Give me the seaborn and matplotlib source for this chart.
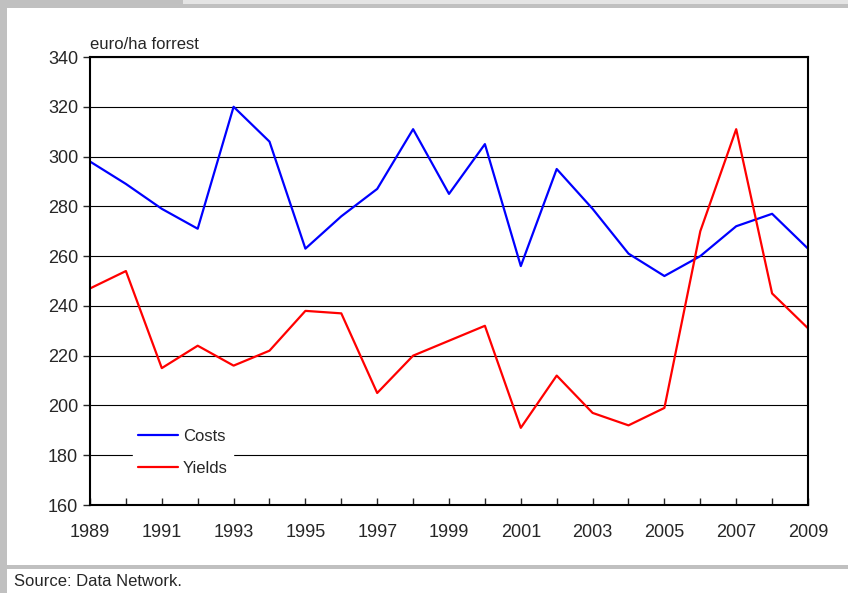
import numpy as np
import pandas as pd
import matplotlib.pyplot as plt
import seaborn as sns
from matplotlib.patches import Rectangle
from matplotlib.ticker import MultipleLocator


anni = list(range(1989, 2010))

costi = [298, 289, 279, 271, 320, 306, 263, 276, 287, 311, 285,
         305, 256, 295, 279, 261, 252, 260, 272, 277, 263]

rese = [247, 254, 215, 224, 216, 222, 238, 237, 205, 220, 226,
        232, 191, 212, 197, 192, 199, 270, 311, 245, 231]

etichetta_y = "euro/ha forrest"
fonte = "Source: Data Network."


def crea_dataframe():
    df = pd.DataFrame({
        "anno": anni * 2,
        "valore": costi + rese,
        "serie": ["Costs"] * len(anni) + ["Yields"] * len(anni)
    })
    return df


def disegna(df):
    sns.set_style("white")
    plt.rcParams["font.family"] = ["Liberation Sans Narrow", "Liberation Sans", "DejaVu Sans"]

    fig = plt.figure(figsize=(8.48, 5.93), dpi=100)

    # cornice grigia tipo report
    fig.patches.append(Rectangle((0, 1 - 8 / 593), 1, 8 / 593, transform=fig.transFigure,
                                 facecolor="#c0c0c0", edgecolor="none", zorder=0))
    fig.patches.append(Rectangle((183 / 848, 1 - 4 / 593), 1, 4 / 593, transform=fig.transFigure,
                                 facecolor="#e4e4e4", edgecolor="none", zorder=1))
    fig.patches.append(Rectangle((0, 0), 7 / 848, 1, transform=fig.transFigure,
                                 facecolor="#c0c0c0", edgecolor="none", zorder=0))
    fig.patches.append(Rectangle((0, 1 - 569 / 593), 1, 4 / 593, transform=fig.transFigure,
                                 facecolor="#c0c0c0", edgecolor="none", zorder=0))

    ax = fig.add_axes([90 / 848, 88 / 593, 718 / 848, 448 / 593])

    sns.lineplot(
        data=df,
        x="anno",
        y="valore",
        hue="serie",
        palette={"Costs": "#0000ff", "Yields": "#ff0000"},
        linewidth=1.6,
        ax=ax
    )

    ax.set_xlim(1989, 2009)
    ax.set_ylim(160, 340)
    ax.set_xticks(anni[::2])
    ax.xaxis.set_minor_locator(MultipleLocator(1))
    ax.yaxis.set_major_locator(MultipleLocator(20))

    ax.grid(axis="y", color="black", linewidth=0.8)
    ax.set_axisbelow(True)
    for lato in ax.spines.values():
        lato.set_color("black")
        lato.set_linewidth(1.5)

    ax.tick_params(axis="x", which="both", direction="in", length=5, width=1,
                   labelsize=13, pad=14, bottom=True)
    ax.tick_params(axis="y", direction="out", length=5, width=1, labelsize=13, left=True)

    ax.set_xlabel("")
    ax.set_ylabel("")
    ax.text(0.0, 1.012, etichetta_y, transform=ax.transAxes,
            fontsize=12, ha="left", va="bottom")

    leg = ax.legend(loc="lower left", bbox_to_anchor=(0.048, 0.036), fontsize=12,
                    frameon=True, handlelength=2.4, handletextpad=0.3,
                    labelspacing=1.0, borderpad=0.3)
    leg.get_frame().set_facecolor("white")
    leg.get_frame().set_edgecolor("white")
    leg.get_frame().set_alpha(1)

    fig.text(14 / 848, 1 - 582 / 593, fonte, fontsize=12, ha="left", va="center")

    fig.savefig("out.png", dpi=100)


def main():
    df = crea_dataframe()
    disegna(df)


if __name__ == "__main__":
    main()
